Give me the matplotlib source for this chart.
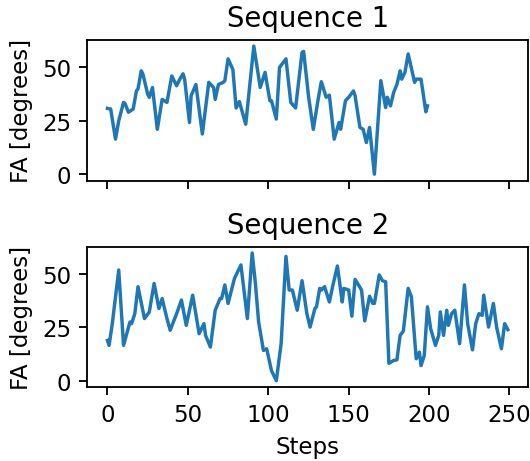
import numpy as np
import matplotlib
matplotlib.use("Agg")
import matplotlib.pyplot as plt

# Sequence 1 (steps, FA en degres)
steps_1 = [0, 2, 5, 7, 10, 11, 13, 16, 18, 19, 21, 22, 25, 26, 28, 31, 34, 37, 40, 43,
           45, 47, 48, 51, 52, 55, 59, 63, 66, 67, 69, 72, 73, 75, 78, 80, 82, 86, 88, 91,
           95, 98, 101, 102, 105, 107, 111, 114, 117, 121, 122, 125, 128, 131, 133, 136, 138, 141, 144, 145,
           148, 150, 153, 154, 157, 159, 161, 163, 166, 170, 173, 174, 176, 178, 180, 182, 183, 185, 187, 191,
           192, 195, 198, 199]
fa_1 = [30.8, 30.5, 16.4, 25, 33.6, 33, 29, 30.5, 39, 40, 48.4, 47, 37.5, 36, 40.6, 21, 35, 33.6, 46, 41.4,
        44.5, 47, 44.5, 24.2, 36.7, 42, 18.8, 43, 40.6, 35, 42, 43, 43.8, 54, 49, 31, 34, 23.4, 38, 60,
        40.6, 47.7, 34.4, 34.4, 25.8, 50, 54, 33.6, 31, 57, 57.5, 36.7, 21, 35, 43.3, 36, 37, 16.4, 24.2, 21,
        34.4, 36, 39, 36.7, 21.9, 21, 14.8, 21.9, 0, 43.8, 31.2, 36, 32, 38.3, 42, 48.4, 44.5, 47.7, 56.3, 43,
        44.5, 44.5, 29.2, 32]

# Sequence 2
steps_2 = [0, 1, 3, 7, 10, 14, 15, 17, 19, 23, 26, 29, 32, 34, 37, 39, 43, 46, 49, 53,
           57, 60, 61, 64, 67, 70, 71, 73, 75, 79, 83, 87, 90, 92, 94, 97, 99, 102, 105, 108,
           111, 113, 115, 118, 121, 124, 126, 129, 130, 132, 133, 135, 138, 140, 143, 146, 147, 150, 152, 154,
           158, 160, 163, 165, 166, 169, 171, 173, 175, 178, 180, 182, 184, 187, 189, 192, 194, 195, 197, 199,
           201, 204, 206, 207, 209, 211, 212, 214, 216, 219, 222, 224, 227, 229, 231, 233, 234, 237, 240, 242,
           245, 247, 249]
fa_2 = [18.9, 16.6, 26.8, 52, 16.6, 27.6, 26.8, 31.5, 44.2, 29.2, 32.3, 45.7, 33.9, 38.6, 29.2, 23.7, 31.5, 37.9, 26, 40.2,
        22.1, 26.8, 21.3, 15.8, 33.1, 38.6, 38.6, 45, 36.3, 48.1, 54.4, 29.2, 60, 45.7, 27.6, 14.2, 15, 4.7, 0, 17.4,
        58.4, 42.6, 42.6, 33.1, 47, 31.5, 25.2, 33.9, 34.7, 43.4, 42.6, 44.2, 37, 44.2, 53.9, 37, 43.4, 42.6, 30.3, 47.6,
        42.6, 28.1, 39.7, 36.3, 36.3, 49.7, 47, 46.5, 8.2, 9.5, 9.8, 21.3, 23.3, 43.4, 39.4, 10.3, 13.4, 7.1, 11.8, 34.7,
        24.4, 16.6, 21.3, 32.3, 21.3, 33.1, 26, 31.5, 33.1, 17.4, 45, 26.8, 14.5, 26.8, 31.5, 30.7, 40.2, 25.2, 36.3, 25.2,
        15, 26.8, 24]

dpi = 165
fig, (ax1, ax2) = plt.subplots(2, 1, figsize=(530 / dpi, 462 / dpi), dpi=dpi, sharex=True)

ax1.plot(steps_1, fa_1, color='tab:blue', linewidth=1.5)
ax1.set_title("Sequence 1")
ax1.set_ylabel("FA [degrees]")

ax2.plot(steps_2, fa_2, color='tab:blue', linewidth=1.5)
ax2.set_title("Sequence 2")
ax2.set_ylabel("FA [degrees]")
ax2.set_xlabel("Steps")

ax1.set_position([0.165, 0.607, 0.831, 0.305])
ax2.set_position([0.165, 0.160, 0.831, 0.304])

fig.savefig("out.png", dpi=dpi)
